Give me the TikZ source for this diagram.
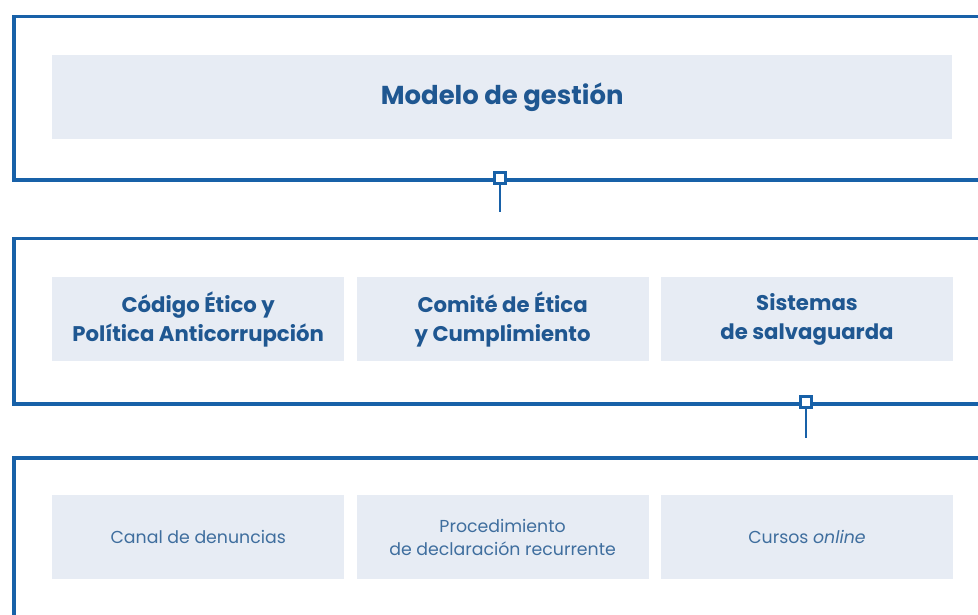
\documentclass[tikz,border=0pt]{standalone}
\usepackage{fontspec}
\setmainfont{Poppins}
\usepackage{tikz}
\usetikzlibrary{positioning}

\definecolor{frameblue}{HTML}{1861A8}
\definecolor{textblue}{HTML}{1F5791}
\definecolor{lighttext}{HTML}{3F6E9E}
\definecolor{boxfill}{HTML}{E7ECF4}

\begin{document}
\begin{tikzpicture}[
  x=1bp, y=-1bp,
  frame/.style={draw=frameblue, line width=3.5bp, anchor=north west, inner sep=0pt},
  box/.style={fill=boxfill, minimum height=84bp, inner sep=2pt, align=center, text=textblue},
  lvl/.style={box, minimum width=292bp, font=\fontsize{21.3}{29}\selectfont\bfseries},
  tool/.style={box, minimum width=292bp, text=lighttext, font=\fontsize{17.4}{23}\selectfont},
  joint/.style={draw=frameblue, fill=white, line width=2.4bp, minimum size=11bp, inner sep=0pt},
  node distance=12bp]
  \clip (0,0) rectangle (978,615);
  % outer frames
  \node[frame, minimum width=990bp, minimum height=163bp] (model) at (12,15) {};
  \node[frame, minimum width=990bp, minimum height=165bp] (levels) at (12,237) {};
  \node[frame, minimum width=990bp, minimum height=200bp] (tools) at (12,456) {};
  % top row
  \node[box, minimum width=900bp, anchor=north west, font=\fontsize{26}{30}\selectfont\bfseries] (gestion) at (52,55) {Modelo de gestión};
  % middle row
  \node[lvl, anchor=north west] (codigo) at (52,277) {Código Ético y\\Política Anticorrupción};
  \node[lvl, right=of codigo] (comite) {Comité de Ética\\y Cumplimiento};
  \node[lvl, right=of comite] (sistemas) {Sistemas\\de salvaguarda};
  % bottom row
  \node[tool, anchor=north west] (canal) at (52,495) {Canal de denuncias};
  \node[tool, right=of canal] (proc) {Procedimiento\\de declaración recurrente};
  \node[tool, right=of proc] (cursos) {Cursos \textit{online}};
  % joints between frames
  \coordinate (end1) at (500,212);
  \coordinate (end2) at (806,438);
  \draw[frameblue, line width=2.4bp] (500,178) -- (end1);
  \draw[frameblue, line width=2.4bp] (806,402) -- (end2);
  \node[joint] (j1) at (500,178) {};
  \node[joint] (j2) at (806,402) {};
\end{tikzpicture}
\end{document}
